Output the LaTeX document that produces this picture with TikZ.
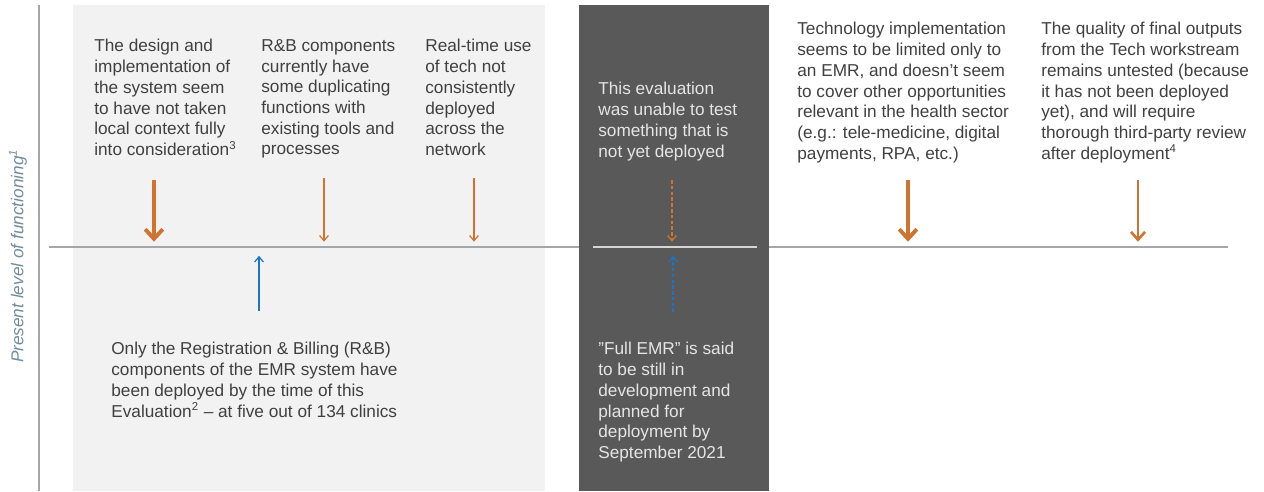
\documentclass[tikz,border=0pt]{standalone}
\usepackage{fontspec}
\setmainfont{Liberation Sans}
\usepackage{tikz}
\usetikzlibrary{arrows.meta}
\usepackage{xcolor}
\definecolor{panelgray}{RGB}{242,242,242}
\definecolor{darkpanel}{RGB}{89,89,89}
\definecolor{textgray}{RGB}{64,64,64}
\definecolor{axisgray}{RGB}{166,166,166}
\definecolor{arroworange}{RGB}{208,114,48}
\definecolor{arrowblue}{RGB}{30,116,196}
\definecolor{labelslate}{RGB}{112,140,156}

\newcommand{\fnmark}[1]{\textsuperscript{\fontsize{6.5}{6.5}\selectfont #1}}

\begin{document}
\begin{tikzpicture}[
    x=0.02cm, y=-0.02cm,
    every node/.style={font=\fontsize{9.8}{11.8}\selectfont},
    finding/.style={anchor=north west, inner sep=0pt, align=left, text=textgray},
    darkfinding/.style={finding, text=white!90!black},
    downbig/.style={arroworange, line width=2.2pt, shorten >=3pt,
        -{Straight Barb[length=5.5pt, width=10pt, line width=2.2pt]}},
    downmid/.style={arroworange, line width=1.5pt, shorten >=3pt,
        -{Straight Barb[length=4.5pt, width=8pt, line width=1.5pt]}},
    downthin/.style={arroworange, line width=0.7pt, shorten >=3pt,
        -{Straight Barb[length=3pt, width=5pt, line width=0.7pt]}},
    upthin/.style={arrowblue, line width=0.7pt, shorten >=5pt,
        -{Straight Barb[length=3pt, width=5pt, line width=0.7pt]}},
    dashedtip/.style={dash pattern=on 2pt off 1.3pt}
]
\useasboundingbox (0,0) rectangle (1264,491);

% panels and axes
\fill[panelgray] (73,5) rectangle (545,491);
\draw[axisgray, line width=0.8pt] (39,5) -- (39,491);
\draw[axisgray, line width=0.8pt] (49,247) coordinate (lineL) -- (1228,247) coordinate (lineR);
\fill[darkpanel] (579,5) rectangle (769,491);
\draw[white!75!darkpanel, line width=0.8pt] (593,247) coordinate (darkL) -- (757,247);

\node[rotate=90, text=labelslate, font=\fontsize{9.8}{11.8}\selectfont\itshape] (ylabel) at (18,256)
    {Present level of functioning\fnmark{1}};

% findings above the line
\node[finding] (design) at (94,39) {The design and\\implementation of\\the system seem\\to have not taken\\local context fully\\into consideration\fnmark{3}};
\node[finding] (rbdup) at (261,39) {R\&B components\\currently have\\some duplicating\\functions with\\existing tools and\\processes};
\node[finding] (realtime) at (425,39) {Real-time use\\of tech not\\consistently\\deployed\\across the\\network};
\node[darkfinding] (untestable) at (598,82) {This evaluation\\was unable to test\\something that is\\not yet deployed};
\node[finding] (scope) at (797,22) {Technology implementation\\seems to be limited only to\\an EMR, and doesn’t seem\\to cover other opportunities\\relevant in the health sector\\(e.g.: tele-medicine, digital\\payments, RPA, etc.)};
\node[finding] (quality) at (1041,22) {The quality of final outputs\\from the Tech workstream\\remains untested (because\\it has not been deployed\\yet), and will require\\thorough third-party review\\after deployment\fnmark{4}};

% findings below the line
\node[finding] (deployed) at (111,342) {Only the Registration \& Billing (R\&B)\\components of the EMR system have\\been deployed by the time of this\\Evaluation\fnmark{2} – at five out of 134 clinics};
\node[darkfinding] (fullemr) at (598,342) {”Full EMR” is said\\to be still in\\development and\\planned for\\deployment by\\September 2021};

% arrow tails
\coordinate (designA) at (154,180);
\coordinate (rbdupA) at (324,178);
\coordinate (realtimeA) at (474,178);
\coordinate (untestA) at (672,180);
\coordinate (scopeA) at (908,180);
\coordinate (qualityA) at (1138,180);
\coordinate (deployA) at (259,311);
\coordinate (fullA) at (673,312);

\draw[downbig] (designA) -- (designA |- lineL);
\draw[downthin] (rbdupA) -- (rbdupA |- lineL);
\draw[downthin] (realtimeA) -- (realtimeA |- lineL);
\draw[downthin, dashedtip] (untestA) -- (untestA |- darkL);
\draw[downbig] (scopeA) -- (scopeA |- lineL);
\draw[downmid] (qualityA) -- (qualityA |- lineL);
\draw[upthin] (deployA) -- (deployA |- lineL);
\draw[upthin, dashedtip] (fullA) -- (fullA |- darkL);
\end{tikzpicture}
\end{document}
